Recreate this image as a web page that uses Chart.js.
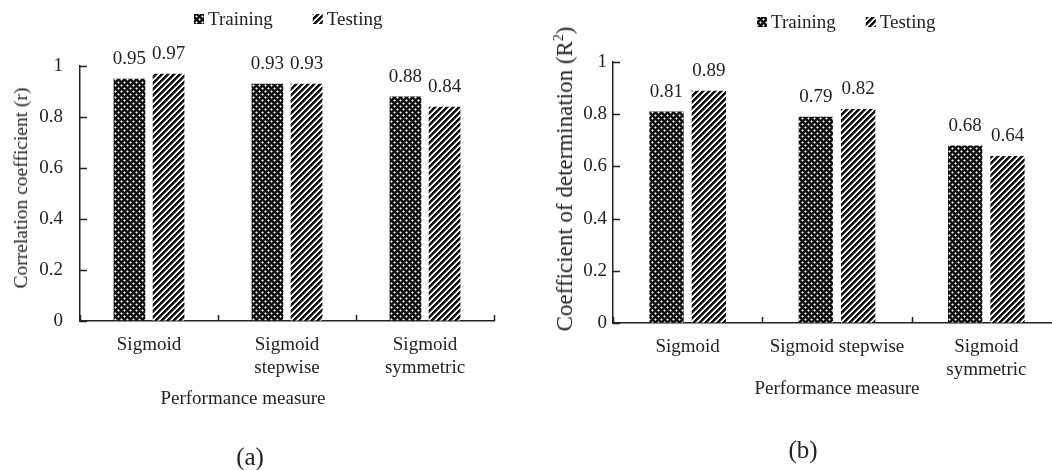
<!DOCTYPE html>
<html>
<head>
<meta charset="utf-8">
<title>Sigmoid performance</title>
<script src="https://cdn.jsdelivr.net/npm/chart.js@4.4.1/dist/chart.umd.min.js"></script>
<style>
  html, body { margin: 0; padding: 0; background: #fff; overflow: hidden; width: 1052px; height: 470px; }
  .panel { position: absolute; top: 0; height: 470px; }
  #panelA { left: 0; width: 580px; }
  #panelB { left: 540px; width: 614px; }
  .note {
    position: absolute;
    font-family: 'Liberation Serif', 'Times New Roman', serif;
    color: #222;
    white-space: nowrap;
    transform: translate(-50%, -50%);
  }
  .note.vert { transform: translate(-50%, -50%) rotate(-90deg); }
  .note sup { font-size: 0.6em; line-height: 0; }
</style>
</head>
<body>
<div class="panel" id="panelA"><canvas id="chartA"></canvas></div>
<div class="panel" id="panelB"><canvas id="chartB"></canvas></div>

<div class="note vert" style="left:21px; top:188px; font-size:19.5px;">Correlation coefficient (r)</div>
<div class="note" style="left:243px; top:398px; font-size:19px;">Performance measure</div>
<div class="note" style="left:250px; top:457px; font-size:25px;">(a)</div>

<div class="note vert" style="left:565px; top:179px; font-size:23px;">Coefficient of determination (R<sup>2</sup>)</div>
<div class="note" style="left:837px; top:388px; font-size:19px;">Performance measure</div>
<div class="note" style="left:803px; top:450px; font-size:25px;">(b)</div>

<script>
// Data
const labelsA = ['Sigmoid', ['Sigmoid', 'stepwise'], ['Sigmoid', 'symmetric']];
const labelsB = ['Sigmoid', 'Sigmoid stepwise', ['Sigmoid', 'symmetric']];
const seriesNames = ['Training', 'Testing'];
const trainingR = [0.95, 0.93, 0.88];
const testingR = [0.97, 0.93, 0.84];
const trainingR2 = [0.81, 0.79, 0.68];
const testingR2 = [0.89, 0.82, 0.64];
const yTicks = [0, 0.2, 0.4, 0.6, 0.8, 1];

const FONT = "'Liberation Serif', 'Times New Roman', serif";
const INK = '#222';

// Fill patterns
function makePattern(kind) {
    const c = document.createElement('canvas');
    const n = 6;
    c.width = n; c.height = n;
    const g = c.getContext('2d');
    g.fillStyle = '#fff';
    g.fillRect(0, 0, n, n);
    for (let y = 0; y < n; y++) {
        for (let x = 0; x < n; x++) {
            let col = null;
            if (kind === 'stripe') {
                const k = (x + y) % n;
                if (k < 3) col = '#111';
                else if (k === 3) col = '#777';
            } else {
                const centre = (x === 1 && y === 1) || (x === 4 && y === 4);
                const arm = (cx, cy) => Math.abs(x - cx) + Math.abs(y - cy) === 1;
                if (centre) col = null;
                else if (arm(1, 1) || arm(4, 4)) col = '#999';
                else col = '#111';
            }
            if (col) { g.fillStyle = col; g.fillRect(x, y, 1, 1); }
        }
    }
    return g.createPattern(c, 'repeat');
}
const checkFill = makePattern('check');
const stripeFill = makePattern('stripe');

// Value labels above bars
const valueLabels = {
    id: 'valueLabels',
    afterDatasetsDraw(chart) {
        const ctx = chart.ctx;
        ctx.save();
        ctx.font = '19px ' + FONT;
        ctx.fillStyle = INK;
        ctx.textAlign = 'center';
        ctx.textBaseline = 'middle';
        chart.data.datasets.forEach((ds, i) => {
            chart.getDatasetMeta(i).data.forEach((bar, j) => {
                ctx.fillText(ds.data[j].toFixed(2), bar.x, bar.y - 20);
            });
        });
        ctx.restore();
    }
};

// Tick marks pointing into the plot
const innerTicks = {
    id: 'innerTicks',
    afterDraw(chart) {
        const { ctx, chartArea: a, scales: { x, y } } = chart;
        ctx.save();
        ctx.strokeStyle = INK;
        ctx.lineWidth = 1.5;
        ctx.beginPath();
        y.ticks.forEach(t => {
            const py = Math.round(y.getPixelForValue(t.value)) + 0.5;
            ctx.moveTo(a.left, py);
            ctx.lineTo(a.left + 7, py);
        });
        const n = x.ticks.length;
        for (let i = 0; i <= n; i++) {
            const px = Math.round(x.left + i * x.width / n) + 0.5;
            ctx.moveTo(px, a.bottom);
            ctx.lineTo(px, a.bottom - 6);
        }
        ctx.stroke();
        ctx.restore();
    }
};

// Legend with pattern swatches
const patternLegend = {
    id: 'patternLegend',
    afterDraw(chart, args, opts) {
        const ctx = chart.ctx;
        ctx.save();
        ctx.font = '19px ' + FONT;
        ctx.textBaseline = 'middle';
        ctx.textAlign = 'left';
        let x = opts.x;
        chart.data.datasets.forEach(ds => {
            ctx.fillStyle = ds.backgroundColor;
            ctx.fillRect(x, opts.y - opts.box / 2, opts.box, opts.box);
            ctx.fillStyle = INK;
            ctx.fillText(ds.label, x + opts.box + 4, opts.y + 1);
            x += opts.box + 4 + ctx.measureText(ds.label).width + opts.gap;
        });
        ctx.restore();
    }
};

function buildChart(id, labels, train, test, geo) {
    new Chart(document.getElementById(id), {
        type: 'bar',
        data: {
            labels: labels,
            datasets: [
                { label: seriesNames[0], data: train, backgroundColor: checkFill, borderWidth: 0 },
                { label: seriesNames[1], data: test, backgroundColor: stripeFill, borderWidth: 0 }
            ]
        },
        options: {
            responsive: true,
            maintainAspectRatio: false,
            animation: false,
            layout: { padding: { left: 0, right: geo.padRight, top: geo.top, bottom: 0 } },
            datasets: { bar: { barPercentage: 0.81, categoryPercentage: 0.567 } },
            plugins: {
                legend: { display: false },
                tooltip: { enabled: false },
                patternLegend: geo.legend
            },
            scales: {
                x: {
                    ticks: { padding: geo.xPad, color: INK, font: { family: FONT, size: 19 }, maxRotation: 0, autoSkip: false },
                    grid: { display: true, drawOnChartArea: false, drawTicks: false, offset: true },
                    border: { display: true, color: INK, width: 1.5 },
                    afterFit(s) { s.height = 470 - geo.bottom; }
                },
                y: {
                    min: 0,
                    max: 1,
                    afterBuildTicks(s) { s.ticks = yTicks.map(v => ({ value: v })); },
                    ticks: {
                        padding: geo.yPad, color: INK, font: { family: FONT, size: 19 },
                        callback: v => String(v)
                    },
                    grid: { display: true, drawOnChartArea: false, drawTicks: false },
                    border: { display: true, color: INK, width: 1.5 },
                    afterFit(s) { s.width = geo.left; }
                }
            }
        },
        plugins: [valueLabels, innerTicks, patternLegend]
    });
}

buildChart('chartA', labelsA, trainingR, testingR, {
    left: 80, padRight: 86, top: 66, bottom: 321, xPad: 13, yPad: 17,
    legend: { x: 194, y: 19, box: 10, gap: 40 }
});
buildChart('chartB', labelsB, trainingR2, testingR2, {
    left: 73, padRight: 93, top: 62, bottom: 323, xPad: 13, yPad: 6,
    legend: { x: 217, y: 22, box: 10, gap: 30 }
});
</script>
</body>
</html>
